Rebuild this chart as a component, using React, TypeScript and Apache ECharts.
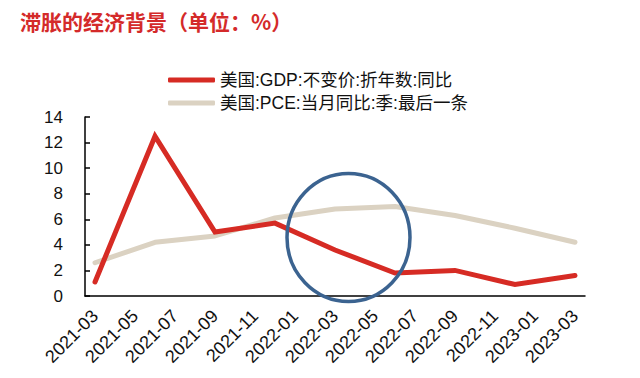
import React, { useEffect, useRef } from "react";
import * as echarts from "echarts";

const months: string[] = [
  "2021-03", "2021-04", "2021-05", "2021-06", "2021-07", "2021-08", "2021-09", "2021-10", "2021-11", "2021-12",
  "2022-01", "2022-02", "2022-03", "2022-04", "2022-05", "2022-06", "2022-07", "2022-08", "2022-09", "2022-10",
  "2022-11", "2022-12", "2023-01", "2023-02", "2023-03",
];
const quarterMonths: string[] = [
  "2021-03", "2021-06", "2021-09", "2021-12", "2022-03", "2022-06", "2022-09", "2022-12", "2023-03",
];
const gdpValues: number[] = [1.1, 12.5, 5.0, 5.7, 3.6, 1.8, 2.0, 0.9, 1.6];
const pceValues: number[] = [2.6, 4.2, 4.7, 6.1, 6.8, 7.0, 6.3, 5.3, 4.2];
const yTicks = { min: 0, max: 14, interval: 2 };

const gdpName = "美国:GDP:不变价:折年数:同比";
const pceName = "美国:PCE:当月同比:季:最后一条";
const titleText = "滞胀的经济背景（单位：%）";

function toMonthly(vals: number[]): (number | null)[] {
  return months.map((m) => {
    const i = quarterMonths.indexOf(m);
    return i >= 0 ? vals[i] : null;
  });
}

export default function App() {
  const ref = useRef<HTMLDivElement>(null);
  useEffect(() => {
    if (!ref.current) return;
    const chart = echarts.init(ref.current, undefined, { renderer: "svg" });
    const font = "'Liberation Sans', Arial, 'Noto Sans CJK SC', sans-serif";
    chart.setOption({
      animation: false,
      backgroundColor: "#ffffff",
      title: {
        text: titleText,
        left: 15,
        top: 5,
        textStyle: { color: "#d42a2a", fontSize: 21, fontWeight: "bold", fontFamily: "'Noto Sans CJK SC', sans-serif" },
      },
      legend: {
        orient: "vertical",
        left: 163,
        top: 66,
        itemWidth: 47,
        itemHeight: 5,
        itemGap: 5,
        icon: "roundRect",
        textStyle: { color: "#111", fontSize: 17.5, lineHeight: 18, fontFamily: font },
        data: [gdpName, pceName],
      },
      grid: { left: 85, right: 55, top: 117, bottom: 82 },
      xAxis: {
        type: "category",
        data: months,
        boundaryGap: true,
        axisLine: { lineStyle: { color: "#000", width: 1.5 } },
        axisTick: { inside: true, interval: 1, length: 5, lineStyle: { color: "#000", width: 1.5 } },
        axisLabel: { interval: 1, rotate: 45, margin: 17, color: "#111", fontSize: 18, fontFamily: font },
      },
      yAxis: {
        type: "value",
        min: yTicks.min,
        max: yTicks.max,
        interval: yTicks.interval,
        axisLine: { show: true, lineStyle: { color: "#000", width: 1.5 } },
        axisTick: { show: true, inside: true, length: 5, lineStyle: { color: "#000", width: 1.5 } },
        splitLine: { show: false },
        axisLabel: { margin: 22, color: "#111", fontSize: 17, fontFamily: font },
      },
      series: [
        {
          name: pceName,
          type: "line",
          data: toMonthly(pceValues),
          connectNulls: true,
          symbol: "none",
          z: 2,
          itemStyle: { color: "#dbd2c2" },
          lineStyle: { color: "#dbd2c2", width: 5, cap: "round", join: "round" },
        },
        {
          name: gdpName,
          type: "line",
          data: toMonthly(gdpValues),
          connectNulls: true,
          symbol: "none",
          z: 3,
          itemStyle: { color: "#d62b24" },
          lineStyle: { color: "#d62b24", width: 5, cap: "round", join: "miter" },
        },
      ],
      graphic: [
        {
          type: "ellipse",
          z: 100,
          shape: { cx: 348.5, cy: 237.5, rx: 61.5, ry: 64 },
          style: { fill: "none", stroke: "#3b6390", lineWidth: 3.5 },
        },
      ],
    });
    return () => chart.dispose();
  }, []);
  return <div ref={ref} style={{ width: 640, height: 378, margin: -8 }} />;
}
